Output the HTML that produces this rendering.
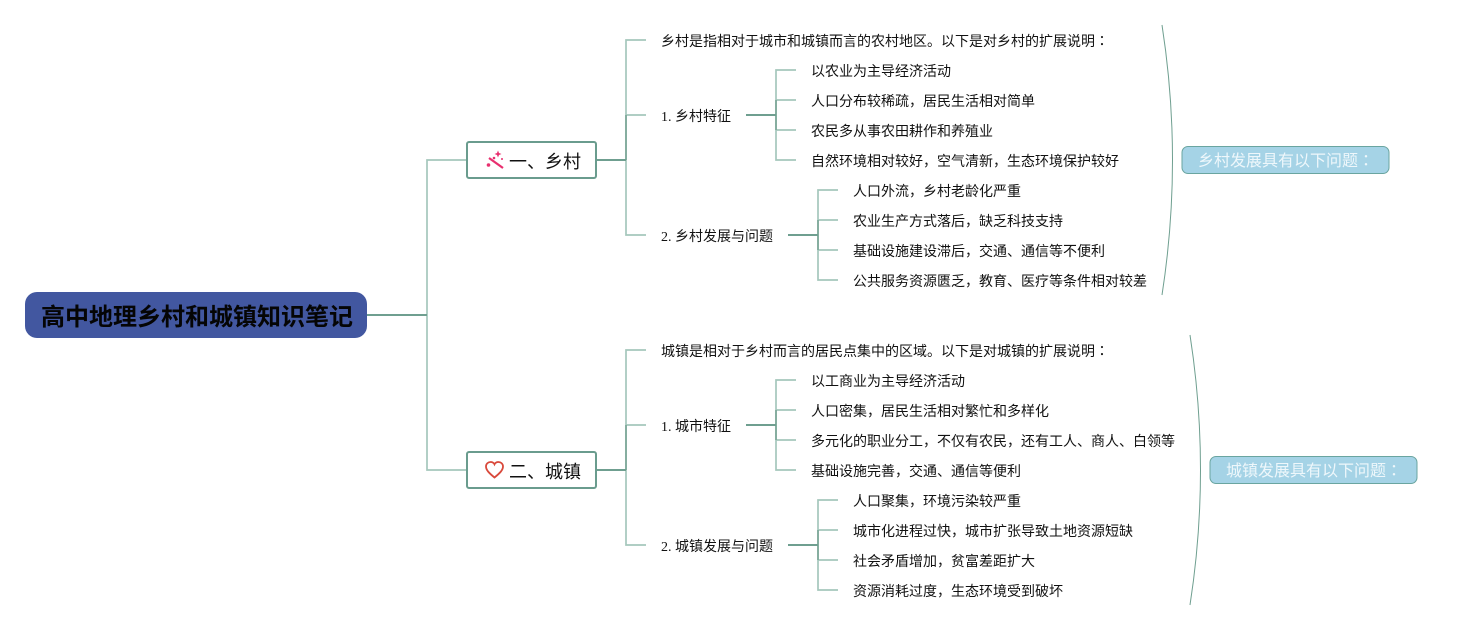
<!DOCTYPE html>
<html><head><meta charset="utf-8"><style>
html,body{margin:0;padding:0;background:#fff}
svg{display:block}
text{font-family:"Liberation Serif","WenQuanYi Zen Hei","Noto Sans CJK SC",sans-serif;fill:#111}
.c{font-family:"Noto Sans CJK TC",sans-serif}
.t{font-size:14px}
.n{font-size:18px}
.l{fill:none;stroke:#a5c7bc;stroke-width:1.7}
.d{fill:none;stroke:#6f9f90;stroke-width:2}
.m{fill:none;stroke:#7ba698;stroke-width:1.7}
.b{fill:none;stroke:#6f9f90;stroke-width:1}
</style></head><body>
<svg width="1462" height="630" viewBox="0 0 1462 630" xmlns="http://www.w3.org/2000/svg">
<path class="l" d="M467 160H427V470H467"/>
<path class="d" d="M367 315H427"/>

<g>
<path class="l" d="M646 40H626V235H646M626 115H646"/>
<path class="m" d="M626 115V160"/>
<path class="d" d="M596 160H626"/>
<path class="l" d="M796 70H776V160H796M776 100H796M776 130H796"/>
<path class="m" d="M776 100V130"/>
<path class="d" d="M746 115H776"/>
<path class="l" d="M838 190H818V280H838M818 220H838M818 250H838"/>
<path class="m" d="M818 220V250"/>
<path class="d" d="M788 235H818"/>
<path class="b" d="M1162 25Q1183 160 1162 295"/>
<rect x="467" y="142" width="129" height="36" rx="2" fill="#fff" stroke="#6a9c8e" stroke-width="2"/>
<rect x="1182" y="146.500" width="207" height="27" rx="6" fill="#a5d3e6" stroke="#6aa5a0" stroke-width="1"/>
<text x="1198" y="166" font-size="16" style="fill:#eef7fb">乡村发展具有以下问题<tspan class="c">：</tspan></text>
<text class="n" x="509" y="168">一、乡村</text>
<text class="t" x="661" y="46">乡村是指相对于城市和城镇而言的农村地区。以下是对乡村的扩展说明<tspan class="c">：</tspan></text>
<text class="t" x="661" y="121">1. 乡村特征</text>
<text class="t" x="661" y="241">2. 乡村发展与问题</text>
<text class="t" x="811" y="76">以农业为主导经济活动</text>
<text class="t" x="811" y="106">人口分布较稀疏，居民生活相对简单</text>
<text class="t" x="811" y="136">农民多从事农田耕作和养殖业</text>
<text class="t" x="811" y="166">自然环境相对较好，空气清新，生态环境保护较好</text>
<text class="t" x="853" y="196">人口外流，乡村老龄化严重</text>
<text class="t" x="853" y="226">农业生产方式落后，缺乏科技支持</text>
<text class="t" x="853" y="256">基础设施建设滞后，交通、通信等不便利</text>
<text class="t" x="853" y="286">公共服务资源匮乏，教育、医疗等条件相对较差</text>
</g>

<g>
<path class="l" d="M646 350H626V545H646M626 425H646"/>
<path class="m" d="M626 425V470"/>
<path class="d" d="M596 470H626"/>
<path class="l" d="M796 380H776V470H796M776 410H796M776 440H796"/>
<path class="m" d="M776 410V440"/>
<path class="d" d="M746 425H776"/>
<path class="l" d="M838 500H818V590H838M818 530H838M818 560H838"/>
<path class="m" d="M818 530V560"/>
<path class="d" d="M788 545H818"/>
<path class="b" d="M1190 335Q1211 470 1190 605"/>
<rect x="467" y="452" width="129" height="36" rx="2" fill="#fff" stroke="#6a9c8e" stroke-width="2"/>
<rect x="1210" y="456.500" width="207" height="27" rx="6" fill="#a5d3e6" stroke="#6aa5a0" stroke-width="1"/>
<text x="1226" y="476" font-size="16" style="fill:#eef7fb">城镇发展具有以下问题<tspan class="c">：</tspan></text>
<text class="n" x="509" y="478">二、城镇</text>
<text class="t" x="661" y="356">城镇是相对于乡村而言的居民点集中的区域。以下是对城镇的扩展说明<tspan class="c">：</tspan></text>
<text class="t" x="661" y="431">1. 城市特征</text>
<text class="t" x="661" y="551">2. 城镇发展与问题</text>
<text class="t" x="811" y="386">以工商业为主导经济活动</text>
<text class="t" x="811" y="416">人口密集，居民生活相对繁忙和多样化</text>
<text class="t" x="811" y="446">多元化的职业分工，不仅有农民，还有工人、商人、白领等</text>
<text class="t" x="811" y="476">基础设施完善，交通、通信等便利</text>
<text class="t" x="853" y="506">人口聚集，环境污染较严重</text>
<text class="t" x="853" y="536">城市化进程过快，城市扩张导致土地资源短缺</text>
<text class="t" x="853" y="566">社会矛盾增加，贫富差距扩大</text>
<text class="t" x="853" y="596">资源消耗过度，生态环境受到破坏</text>
</g>

<rect x="25" y="292" width="342" height="46" rx="12" fill="#4257a0"/>
<text x="41" y="325" font-size="24" font-weight="bold" style="fill:#050505">高中地理乡村和城镇知识笔记</text>

<!-- wand icon -->
<path d="M489 158L503 168" stroke="#e8306f" stroke-width="2.200" fill="none"/>
<path d="M498 150.500l1 2.500 2.500 1-2.500 1-1 2.500-1-2.500-2.500-1 2.500-1z" fill="#e8306f"/>
<circle cx="488.500" cy="165" r="1.800" fill="#e8306f"/>
<circle cx="494" cy="158" r="1.300" fill="#e8306f"/>
<circle cx="502" cy="159" r="1" fill="#e8306f"/>
<!-- heart icon -->
<path d="M494.500 477.500C489 473 486 470 486 466.500C486 463.500 488.400 462 490.600 462C492.300 462 493.800 462.800 494.500 464.300C495.200 462.800 496.700 462 498.400 462C500.600 462 503 463.500 503 466.500C503 470 500 473 494.500 477.500Z" fill="#fff" stroke="#d9493b" stroke-width="1.800"/>
</svg>
</body></html>
